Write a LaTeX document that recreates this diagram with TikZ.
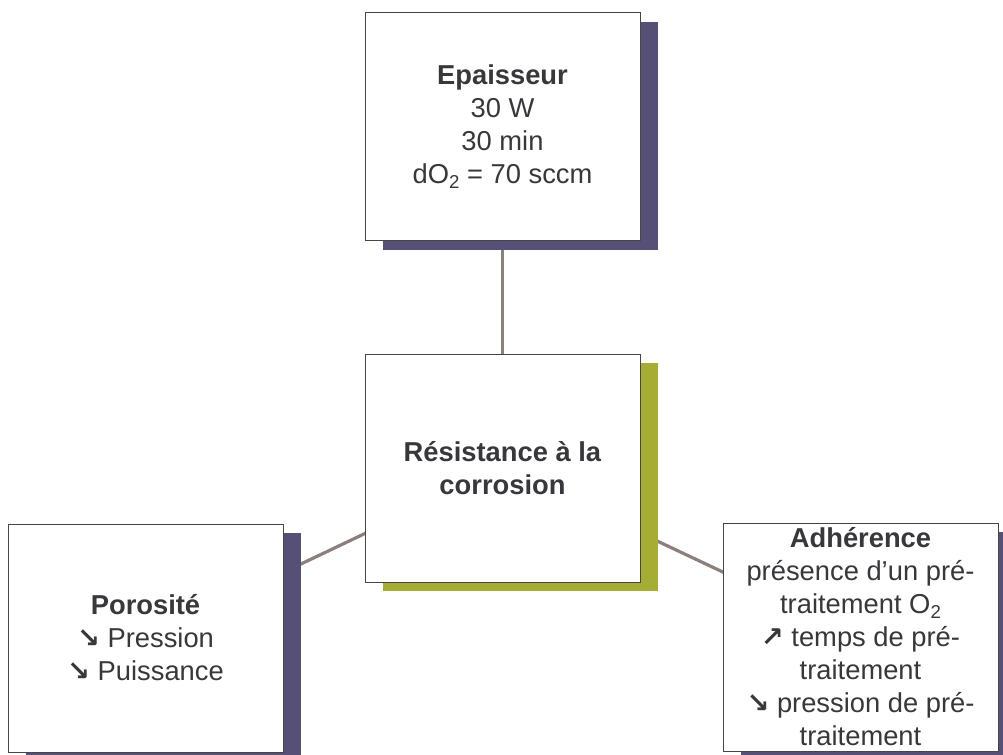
\documentclass[tikz,border=0pt]{standalone}
\usepackage{fontspec}
\setmainfont{Liberation Sans}
\newfontfamily\arrowfont{DejaVu Sans}
\usetikzlibrary{shadows,backgrounds}
\definecolor{inkgray}{RGB}{56,56,60}
\definecolor{framegray}{RGB}{70,70,70}
\definecolor{linkbrown}{RGB}{140,128,124}
\definecolor{shadeplum}{RGB}{87,80,118}
\definecolor{shadeolive}{RGB}{166,173,52}
\newcommand{\arrdown}{{\arrowfont\bfseries ↘}}
\newcommand{\arrup}{{\arrowfont\bfseries ↗}}
\newcommand{\subtwo}{\raisebox{-3.5pt}{\fontsize{14}{14}\selectfont 2}}

\begin{document}
\begin{tikzpicture}[
    x=0.75pt, y=-0.75pt,
    every node/.style={font=\fontsize{20.5}{24.75}\selectfont, text=inkgray},
    card/.style={draw=framegray, line width=0.75pt, fill=white, minimum width=206.25pt, minimum height=171pt, inner sep=0pt, align=center},
    plumcard/.style={card, drop shadow={shadow xshift=13.5pt, shadow yshift=-6.75pt, fill=shadeplum, opacity=1}},
    olivecard/.style={card, drop shadow={shadow xshift=13.5pt, shadow yshift=-6.75pt, fill=shadeolive, opacity=1}},
    link/.style={draw=linkbrown, line width=2.4pt}
  ]
    \useasboundingbox (0,0) rectangle (1003,754);
    \node[olivecard] (corrosion) at (502.5,468) {\textbf{Résistance à la}\\\textbf{corrosion}};
    \node[plumcard] (epaisseur) at (502.5,126.5) {\textbf{Epaisseur}\\30 W\\30 min\\dO\subtwo{} = 70 sccm};
    \node[plumcard] (porosite) at (145.5,638) {\textbf{Porosité}\\\arrdown{} Pression\\\arrdown{} Puissance};
    \node[plumcard] (adherence) at (860.5,637) {\textbf{Adhérence}\\présence d’un pré-\\traitement O\subtwo\\\arrup{} temps de pré-\\traitement\\\arrdown{} pression de pré-\\traitement};
    \begin{scope}[on background layer]
      \draw[link] (corrosion.center) -- (epaisseur.center);
      \draw[link] (corrosion.center) -- (porosite.center);
      \draw[link] (corrosion.center) -- (adherence.center);
    \end{scope}
  \end{tikzpicture}
\end{document}
